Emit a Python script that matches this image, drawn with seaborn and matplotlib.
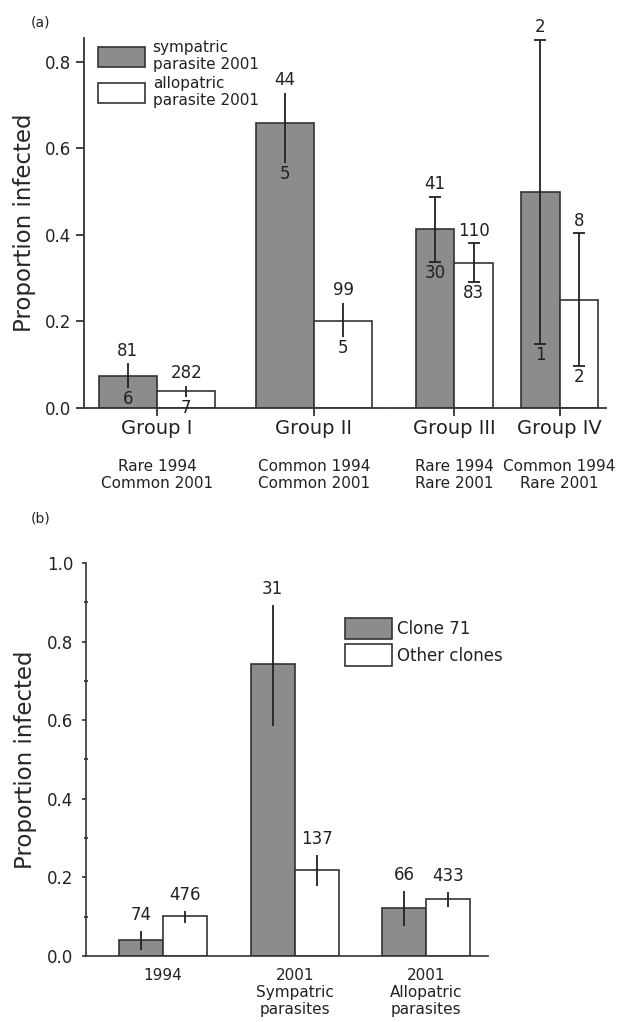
import pandas as pd
import seaborn as sns
import matplotlib.pyplot as plt
from matplotlib.patches import Patch
import matplotlib.ticker as mticker

# ---- panel (a) data ----
groups_a = ["Group I", "Group II", "Group III", "Group IV"]
subs_a = ["Rare 1994\nCommon 2001", "Common 1994\nCommon 2001",
          "Rare 1994\nRare 2001", "Common 1994\nRare 2001"]
symp_a = [0.074, 0.659, 0.414, 0.499]
symp_lo_a = [0.046, 0.566, 0.338, 0.148]
symp_hi_a = [0.104, 0.728, 0.488, 0.851]
symp_top_a = ["81", "44", "41", "2"]
symp_bot_a = ["6", "5", "30", "1"]
allo_a = [0.039, 0.201, 0.335, 0.250]
allo_lo_a = [0.025, 0.164, 0.291, 0.097]
allo_hi_a = [0.051, 0.243, 0.381, 0.404]
allo_top_a = ["282", "99", "110", "8"]
allo_bot_a = ["7", "5", "83", "2"]
series_a = ["sympatric\nparasite 2001", "allopatric\nparasite 2001"]

# ---- panel (b) data ----
cats_b = ["1994", "2001\nSympatric\nparasites", "2001\nAllopatric\nparasites"]
clone_b = [0.041, 0.743, 0.122]
clone_lo_b = [0.015, 0.585, 0.076]
clone_hi_b = [0.064, 0.893, 0.165]
clone_n_b = ["74", "31", "66"]
other_b = [0.102, 0.219, 0.145]
other_lo_b = [0.084, 0.178, 0.125]
other_hi_b = [0.115, 0.257, 0.163]
other_n_b = ["476", "137", "433"]
series_b = ["Clone 71", "Other clones"]

sns.set_style("ticks")
plt.rcParams["font.family"] = ["DejaVu Sans"]
plt.rcParams["text.color"] = "#222222"
plt.rcParams["axes.edgecolor"] = "#333333"
plt.rcParams["xtick.color"] = "#333333"
plt.rcParams["ytick.color"] = "#333333"
plt.rcParams["xtick.labelcolor"] = "#222222"
plt.rcParams["ytick.labelcolor"] = "#222222"

GRAY = "#8c8c8c"
EDGE = "#333333"
palette = [GRAY, "white"]

W, H = 620, 1022
fig = plt.figure(figsize=(W / 100, H / 100), dpi=100)


def px_axes(x0, x1, y_top, y_bot):
    return fig.add_axes([x0 / W, 1 - y_bot / H, (x1 - x0) / W, (y_bot - y_top) / H])


def long_df(cats, v1, v2, names):
    return pd.DataFrame({
        "cat": list(cats) * 2,
        "val": list(v1) + list(v2),
        "series": [names[0]] * len(cats) + [names[1]] * len(cats),
    })


def bars(ax, df, names, width):
    sns.barplot(data=df, x="cat", y="val", hue="series", hue_order=names,
                palette=palette, width=width, gap=0, errorbar=None,
                edgecolor=EDGE, linewidth=1.2, legend=False, ax=ax)


def err(ax, cont, vals, lo, hi, tops, bots, capsize, up=2.5):
    for bar, v, l, h, t, b in zip(cont, vals, lo, hi, tops, bots):
        x = bar.get_x() + bar.get_width() / 2
        ax.errorbar(x, v, yerr=[[v - l], [h - v]], color="#222222", lw=1.3,
                    capsize=capsize, capthick=1.3, zorder=5)
        ax.annotate(t, (x, h), xytext=(0, up), textcoords="offset points",
                    ha="center", va="bottom", fontsize=12, zorder=6)
        if b:
            ax.annotate(b, (x, l), xytext=(0, -1.5), textcoords="offset points",
                        ha="center", va="top", fontsize=12, zorder=6)


# ---------------- panel (a) ----------------
ymax_a = 0.855
ax1 = px_axes(84, 387, 38, 408)
ax2 = px_axes(389, 606, 38, 408)

df1 = long_df(groups_a[:2], symp_a[:2], allo_a[:2], series_a)
df2 = long_df(groups_a[2:], symp_a[2:], allo_a[2:], series_a)
bars(ax1, df1, series_a, 0.745)
bars(ax2, df2, series_a, 0.735)

err(ax1, ax1.containers[0], symp_a[:2], symp_lo_a[:2], symp_hi_a[:2],
    symp_top_a[:2], symp_bot_a[:2], 0)
err(ax1, ax1.containers[1], allo_a[:2], allo_lo_a[:2], allo_hi_a[:2],
    allo_top_a[:2], allo_bot_a[:2], 0)
err(ax2, ax2.containers[0], symp_a[2:], symp_lo_a[2:], symp_hi_a[2:],
    symp_top_a[2:], symp_bot_a[2:], 4)
err(ax2, ax2.containers[1], allo_a[2:], allo_lo_a[2:], allo_hi_a[2:],
    allo_top_a[2:], allo_bot_a[2:], 4)

ax1.set_xlim(-0.465, 1.465)
ax2.set_xlim(-0.62, 1.44)
for ax, subs in ((ax1, subs_a[:2]), (ax2, subs_a[2:])):
    ax.set_ylim(0, ymax_a)
    ax.set_xlabel("")
    ax.tick_params(axis="x", length=6, width=1.3, pad=2, labelsize=14)
    for i, s in enumerate(subs):
        ax.annotate(s, (i, 0), xycoords=("data", "axes fraction"),
                    xytext=(0, -37), textcoords="offset points",
                    ha="center", va="top", fontsize=11, linespacing=1.15)
    sns.despine(ax=ax)
    for sp in ax.spines.values():
        sp.set_linewidth(1.3)

ax1.set_yticks([0.0, 0.2, 0.4, 0.6, 0.8])
ax1.yaxis.set_major_formatter(mticker.FormatStrFormatter("%.1f"))
ax1.tick_params(axis="y", length=6, width=1.3, labelsize=12)
ax1.set_ylabel("Proportion infected", fontsize=16.5, labelpad=6)
ax2.set_ylabel("")
ax2.spines["left"].set_visible(False)
ax2.tick_params(axis="y", left=False, labelleft=False)

handles_a = [Patch(facecolor=c, edgecolor=EDGE, linewidth=1.2) for c in palette]
ax1.legend(handles_a, series_a, loc="upper left", bbox_to_anchor=(0.045, 0.995),
           frameon=False, fontsize=11, handlelength=3.1, handleheight=1.65,
           handletextpad=0.5, labelspacing=0.25, borderpad=0, borderaxespad=0)

fig.text(41 / W, 1 - 22 / H, "(a)", ha="center", va="center", fontsize=10)

# ---------------- panel (b) ----------------
ax3 = px_axes(86, 488, 563, 956)
df3 = long_df(cats_b, clone_b, other_b, series_b)
bars(ax3, df3, series_b, 0.67)
err(ax3, ax3.containers[0], clone_b, clone_lo_b, clone_hi_b, clone_n_b,
    [""] * 3, 0, up=5)
err(ax3, ax3.containers[1], other_b, other_lo_b, other_hi_b, other_n_b,
    [""] * 3, 0, up=5)
ax3.set_xlim(-0.586, 2.47)
ax3.set_ylim(0, 1.0)
ax3.set_yticks([0.0, 0.2, 0.4, 0.6, 0.8, 1.0])
ax3.yaxis.set_minor_locator(mticker.MultipleLocator(0.1))
ax3.yaxis.set_major_formatter(mticker.FormatStrFormatter("%.1f"))
ax3.tick_params(axis="y", which="major", length=3, width=1.2, pad=6, labelsize=12)
ax3.tick_params(axis="y", which="minor", length=3, width=1.2, direction="inout")
ax3.tick_params(axis="x", length=0, pad=9, labelsize=11)
for lab in ax3.get_xticklabels():
    lab.set_linespacing(1.15)
ax3.set_xlabel("")
ax3.set_ylabel("Proportion infected", fontsize=16.5, labelpad=7)
sns.despine(ax=ax3)
for sp in ax3.spines.values():
    sp.set_linewidth(1.2)

handles_b = [Patch(facecolor=c, edgecolor=EDGE, linewidth=1.2) for c in palette]
ax3.legend(handles_b, series_b, loc="upper left", bbox_to_anchor=(0.644, 0.86),
           frameon=False, fontsize=12, handlelength=2.8, handleheight=1.6,
           handletextpad=0.3, labelspacing=0.3, borderpad=0, borderaxespad=0)

fig.text(41 / W, 1 - 518 / H, "(b)", ha="center", va="center", fontsize=10)

fig.savefig("out.png", dpi=100)
